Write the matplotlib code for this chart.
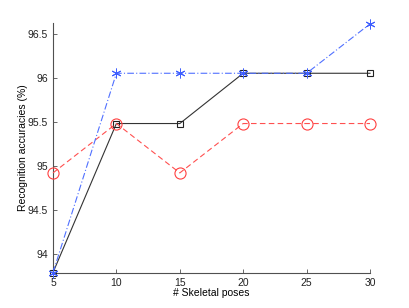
import matplotlib
matplotlib.use('Agg')
import matplotlib.pyplot as plt

plt.rcParams['font.family'] = ['Liberation Sans', 'DejaVu Sans']

poses = [5, 10, 15, 20, 25, 30]
acc_black = [93.79, 95.48, 95.48, 96.05, 96.05, 96.05]
acc_blue = [93.79, 96.05, 96.05, 96.05, 96.05, 96.61]
acc_red = [94.92, 95.48, 94.92, 95.48, 95.48, 95.48]

y_ticks = [94, 94.5, 95, 95.5, 96, 96.5]
y_ticklabels = ['94', '94.5', '95', '95.5', '96', '96.5']

fig = plt.figure(figsize=(4.09, 3.08), dpi=100)
ax = fig.add_axes([53 / 409, 35 / 308, 317 / 409, 250 / 308])

ax.plot(poses, acc_black, color='#333333', linestyle='-', linewidth=0.8,
        marker='s', markersize=5, markerfacecolor='none', markeredgecolor='#222222',
        markeredgewidth=0.8, clip_on=False, zorder=3)
ax.plot(poses, acc_red, color='#ff5050', linestyle=(0, (5, 3)), linewidth=0.8,
        marker='o', markersize=8, markerfacecolor='none', markeredgecolor='#ff4040',
        markeredgewidth=0.8, clip_on=False, zorder=3)
ax.plot(poses, acc_blue, color='#5070ff', linestyle=(0, (6, 2, 1, 2)), linewidth=0.8,
        marker=(6, 2, 0), markersize=7, markeredgecolor='#4060ff', markeredgewidth=0.7,
        clip_on=False, zorder=4)

ax.set_xlim(5, 30)
ax.set_ylim(93.785, 96.62)
ax.set_xticks(poses)
ax.set_yticks(y_ticks)
ax.set_yticklabels(y_ticklabels)

for side in ['top', 'right']:
    ax.spines[side].set_visible(False)
for side in ['left', 'bottom']:
    ax.spines[side].set_color('#505050')
    ax.spines[side].set_linewidth(0.8)

ax.tick_params(direction='in', length=3, width=0.6, colors='#505050',
               labelcolor='#222222', labelsize=7.5)

ax.set_xlabel('# Skeletal poses', fontsize=7.5, labelpad=0)
ax.set_ylabel('Recognition accuracies (%)', fontsize=7.5, labelpad=0)

fig.savefig('out.png', dpi=100)
